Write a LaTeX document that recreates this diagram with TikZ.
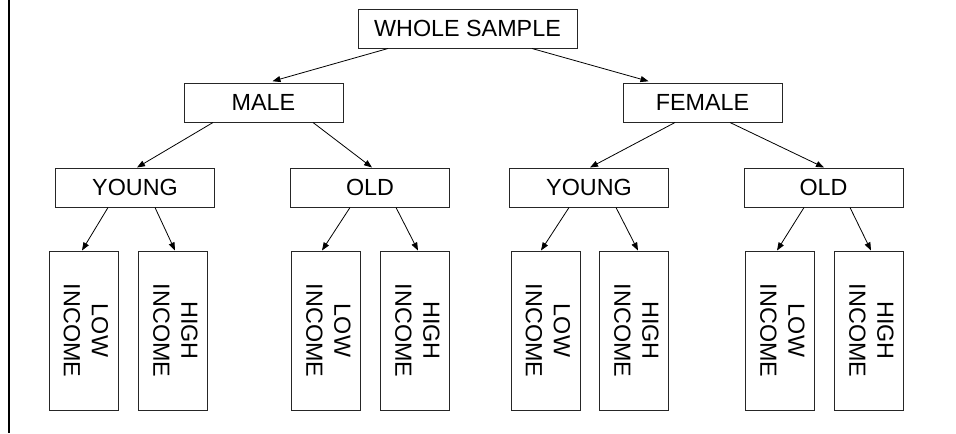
\documentclass[tikz,border=0pt]{standalone}
\usepackage{fontspec}
\setmainfont{Liberation Sans}
\usepackage{graphicx}
\usetikzlibrary{arrows.meta,calc}
\newcommand{\sidetext}[1]{\rotatebox{-90}{\begin{tabular}{@{}c@{}}#1\end{tabular}}}

\begin{document}
\begin{tikzpicture}[
  x=0.75pt,y=-0.75pt,
  every node/.style={font=\fontsize{17.5}{21}\selectfont},
  box/.style={draw=black!85,line width=0.75pt,inner sep=0pt,minimum width=119.25pt,minimum height=29.25pt},
  leaf/.style={draw=black!85,line width=0.75pt,inner sep=0pt,minimum width=51.75pt,minimum height=119.25pt},
  arr/.style={-{Triangle[length=6pt,width=4.5pt]},line width=0.6pt}
]
\useasboundingbox (0,0) rectangle (956,433);
\draw[line width=1.5pt] (8.5,0) -- (8.5,433);
% levels
\node[box,minimum width=164.25pt] (whole) at (467.5,28.5) {WHOLE SAMPLE};
\node[box] (male) at (263.5,102.5) {MALE};
\node[box] (female) at (702.5,102.5) {FEMALE};
\node[box] (youngm) at (135,187.5) {YOUNG};
\node[box] (oldm) at (370,187.5) {OLD};
\node[box] (youngf) at (589,187.5) {YOUNG};
\node[box] (oldf) at (823.5,187.5) {OLD};
% income leaves
\node[leaf] (ymlow) at (83.5,330.5) {\sidetext{LOW\\INCOME}};
\node[leaf] (ymhigh) at (173,330.5) {\sidetext{HIGH\\INCOME}};
\node[leaf] (omlow) at (326,330.5) {\sidetext{LOW\\INCOME}};
\node[leaf] (omhigh) at (415,330.5) {\sidetext{HIGH\\INCOME}};
\node[leaf] (yflow) at (545.5,330.5) {\sidetext{LOW\\INCOME}};
\node[leaf] (yfhigh) at (634,330.5) {\sidetext{HIGH\\INCOME}};
\node[leaf] (oflow) at (780,330.5) {\sidetext{LOW\\INCOME}};
\node[leaf] (ofhigh) at (869,330.5) {\sidetext{HIGH\\INCOME}};
% arrows
\draw[arr,shorten >=3.5pt] ($(whole.south)+(-79.5,0)$) -- ($(male.north)+(4.5,0)$);
\draw[arr,shorten >=3.5pt] ($(whole.south)+(64.5,0)$) -- ($(female.north)+(-49.5,0)$);
\draw[arr] ($(male.south)+(-50.5,0)$) -- ($(youngm.north)+(2,0)$);
\draw[arr] ($(male.south)+(49.5,0)$) -- ($(oldm.north)+(2,0)$);
\draw[arr] ($(female.south)+(-27.5,0)$) -- ($(youngf.north)+(1,0)$);
\draw[arr] ($(female.south)+(27.5,0)$) -- ($(oldf.north)+(0.5,0)$);
\draw[arr] ($(youngm.south)+(-27,0)$) -- ($(ymlow.north)+(-1.5,0)$);
\draw[arr] ($(youngm.south)+(20,0)$) -- ($(ymhigh.north)+(2,0)$);
\draw[arr] ($(oldm.south)+(-20,0)$) -- ($(omlow.north)+(-4,0)$);
\draw[arr] ($(oldm.south)+(26,0)$) -- ($(omhigh.north)+(3,0)$);
\draw[arr] ($(youngf.south)+(-20,0)$) -- ($(yflow.north)+(-4.5,0)$);
\draw[arr] ($(youngf.south)+(27,0)$) -- ($(yfhigh.north)+(4,0)$);
\draw[arr] ($(oldf.south)+(-19.5,0)$) -- ($(oflow.north)+(-3,0)$);
\draw[arr] ($(oldf.south)+(26.5,0)$) -- ($(ofhigh.north)+(2,0)$);
\end{tikzpicture}
\end{document}
